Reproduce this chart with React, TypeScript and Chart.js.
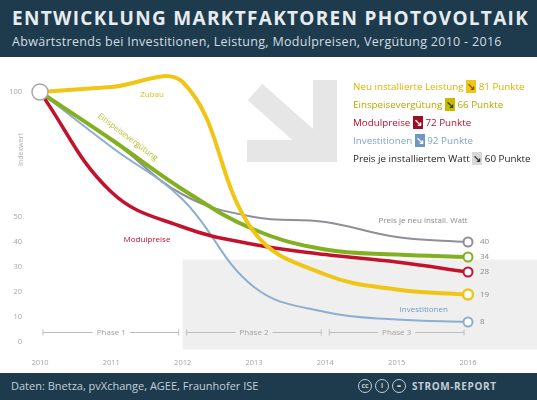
import React, { useEffect, useRef } from "react";
import { Chart, registerables } from "chart.js";

Chart.register(...registerables);

const years = ["2010", "2011", "2012", "2013", "2014", "2015", "2016"];
const leistung = [100, 102, 104, 44, 27, 21, 19];
const verguetung = [100, 81, 61, 45, 37, 35, 34];
const modulpreise = [100, 60, 46, 39, 35, 32, 28];
const investitionen = [100, 78, 57, 22, 12, 9, 8];
const preisWatt = [100, 81, 59, 50, 48, 42, 40];
const yTickValues = [0, 10, 20, 30, 40, 50, 100];
const phaseNames = ["Phase 1", "Phase 2", "Phase 3"];
const legendNames = [
  "Neu installierte Leistung",
  "Einspeisevergütung",
  "Modulpreise",
  "Investitionen",
  "Preis je installiertem Watt",
];
const lineLabels = ["Zubau", "Einspeisevergütung", "Modulpreise", "Investitionen", "Preis je neu install. Watt"];

const YELLOW = "#f0c514";
const GREEN = "#82b020";
const RED = "#c3122e";
const BLUE = "#8cafd0";
const GRAY = "#8e8e9c";

const seriesData = [leistung, verguetung, modulpreise, investitionen, preisWatt];
const legendColors = ["#dcb400", "#b3a800", "#b8102c", "#7fa6c9", "#222222"];
const legendBoxColors = [YELLOW, "#c9b800", "#9a0f25", "#6d98c4", "#d8d8d8"];
const legendArrowColors = ["#7a5a00", "#3a3a00", "#ffffff", "#ffffff", "#333333"];

function mk(label: string, data: number[], color: string, width: number) {
  const n = data.length;
  return {
    label,
    data,
    borderColor: color,
    borderWidth: width,
    tension: 0.4,
    fill: false,
    clip: false as any,
    pointRadius: data.map((_, i) => (i === n - 1 ? 4.5 : 0)),
    pointHoverRadius: 0,
    pointBackgroundColor: "#ffffff",
    pointBorderColor: color,
    pointBorderWidth: 2,
  };
}

const decorPlugin = {
  id: "decor",
  beforeDatasetsDraw(chart: any) {
    const { ctx, scales } = chart;
    const x = scales.x;
    const y = scales.y;
    ctx.save();
    // light band behind phases 2/3
    const x12 = x.getPixelForValue(2);
    const yTop = y.getPixelForValue(33);
    const yBot = y.getPixelForValue(-3);
    ctx.fillStyle = "#efefef";
    ctx.fillRect(x12, yTop, chart.width - x12, yBot - yTop);

    // big arrow watermark
    ctx.fillStyle = "#e6e6e6";
    ctx.strokeStyle = "#e6e6e6";
    ctx.fillRect(313, 80, 24, 82);
    ctx.fillRect(247, 140, 90, 22);
    ctx.lineWidth = 22;
    ctx.lineCap = "butt";
    ctx.beginPath();
    ctx.moveTo(255, 92);
    ctx.lineTo(318, 148);
    ctx.stroke();

    // phase markers
    const py = y.getPixelForValue(3.8);
    ctx.font = '8px "Open Sans", sans-serif';
    ctx.textAlign = "center";
    ctx.textBaseline = "middle";
    phaseNames.forEach((name, i) => {
      const a = x.getPixelForValue(i * 2) + (i === 0 ? 3 : 4);
      const b = x.getPixelForValue(i * 2 + 2) - 4;
      const c = x.getPixelForValue(i * 2 + 1);
      const tw = ctx.measureText(name).width / 2 + 4;
      ctx.strokeStyle = "#bdbdbd";
      ctx.lineWidth = 1;
      ctx.beginPath();
      ctx.moveTo(a, py);
      ctx.lineTo(c - tw, py);
      ctx.moveTo(c + tw, py);
      ctx.lineTo(b, py);
      ctx.moveTo(a, py - 3);
      ctx.lineTo(a, py + 3);
      ctx.moveTo(b, py - 3);
      ctx.lineTo(b, py + 3);
      ctx.stroke();
      ctx.fillStyle = "#a0a0a0";
      ctx.fillText(name, c, py);
    });
    ctx.restore();
  },
  afterDatasetsDraw(chart: any) {
    const { ctx, scales } = chart;
    const x = scales.x;
    const y = scales.y;
    ctx.save();
    ctx.textBaseline = "middle";
    const lbl = (t: string, xi: number, v: number, color: string, rot = 0) => {
      ctx.save();
      ctx.translate(x.getPixelForValue(xi), y.getPixelForValue(v));
      ctx.rotate(rot);
      ctx.fillStyle = color;
      ctx.textAlign = "center";
      ctx.font = '8px "Open Sans", sans-serif';
      ctx.fillText(t, 0, 0);
      ctx.restore();
    };
    lbl(lineLabels[0], 1.57, 99, "#d8c21c");
    lbl(lineLabels[1], 1.23, 82, "#b5bf22", (37 * Math.PI) / 180);
    lbl(lineLabels[2], 1.5, 41, "#c3122e");
    lbl(lineLabels[3], 5.38, 13, "#6f9cc4");
    lbl(lineLabels[4], 5.37, 48.5, "#8a8a8a");

    // end values
    ctx.font = '8px "Open Sans", sans-serif';
    ctx.textAlign = "left";
    ctx.fillStyle = "#8a8a8a";
    const last = years.length - 1;
    seriesData.forEach((d) => {
      ctx.fillText(String(d[last]), x.getPixelForValue(last) + 12, y.getPixelForValue(d[last]));
    });

    // y axis title
    ctx.save();
    ctx.translate(21, y.getPixelForValue(77));
    ctx.rotate(-Math.PI / 2);
    ctx.textAlign = "center";
    ctx.fillStyle = "#b0b0b0";
    ctx.font = '7px "Open Sans", sans-serif';
    ctx.fillText("Indexwert", 0, 0);
    ctx.restore();
    ctx.restore();
  },
};

export default function App() {
  const ref = useRef<HTMLCanvasElement>(null);
  useEffect(() => {
    if (!ref.current) return;
    const yellow = mk("Neu installierte Leistung", leistung, YELLOW, 4);
    const n = leistung.length;
    yellow.pointRadius = leistung.map((_, i) => (i === 0 ? 8 : i === n - 1 ? 5 : 0));
    (yellow as any).pointBorderColor = leistung.map((_, i) => (i === 0 ? "#a9a9a9" : YELLOW));
    (yellow as any).pointBorderWidth = leistung.map((_, i) => (i === 0 ? 1.5 : 2.5));
    const chart = new Chart(ref.current, {
      type: "line",
      data: {
        labels: years,
        datasets: [
          yellow,
          mk("Modulpreise", modulpreise, RED, 3.5),
          mk("Einspeisevergütung", verguetung, GREEN, 4),
          mk("Investitionen", investitionen, BLUE, 2),
          mk("Preis je installiertem Watt", preisWatt, GRAY, 2),
        ] as any,
      },
      options: {
        animation: false,
        responsive: false,
        devicePixelRatio: 1,
        events: [],
        layout: { padding: { top: 67, right: 69, bottom: 27, left: 0 } },
        plugins: { legend: { display: false }, tooltip: { enabled: false } },
        scales: {
          x: {
            type: "category",
            grid: { display: false, drawTicks: false },
            border: { display: false },
            ticks: { padding: 4, color: "#a5a5a5", font: { size: 7.5, family: '"Open Sans", sans-serif' }, maxRotation: 0 },
            afterFit: (s: any) => {
              s.height = 18.5;
            },
          },
          y: {
            min: -5,
            max: 110,
            grid: { display: false, drawTicks: false },
            border: { display: false },
            afterBuildTicks: (s: any) => {
              s.ticks = yTickValues.map((v) => ({ value: v }));
            },
            ticks: { padding: 18, color: "#a5a5a5", font: { size: 7.5, family: '"Open Sans", sans-serif' } },
            afterFit: (s: any) => {
              s.width = 40;
            },
          },
        },
      } as any,
      plugins: [decorPlugin],
    });
    return () => chart.destroy();
  }, []);

  const last = years.length - 1;
  return (
    <div
      style={{
        position: "absolute",
        left: 0,
        top: 0,
        width: 537,
        height: 400,
        overflow: "hidden",
        background: "#ffffff",
        fontFamily: '"Open Sans", sans-serif',
      }}
    >
      <canvas ref={ref} width={537} height={400} style={{ position: "absolute", left: 0, top: 0, display: "block" }} />
      <div style={{ position: "absolute", left: 0, top: 0, width: 537, height: 57, background: "#1d3b4d" }}>
        <div
          style={{
            position: "absolute",
            left: 12,
            top: 7,
            fontSize: 19,
            lineHeight: "22px",
            fontWeight: 700,
            color: "#e6ecef",
            letterSpacing: 1.3,
            whiteSpace: "nowrap",
          }}
        >
          ENTWICKLUNG MARKTFAKTOREN PHOTOVOLTAIK
        </div>
        <div
          style={{
            position: "absolute",
            left: 12,
            top: 34,
            fontSize: 12.5,
            lineHeight: "15px",
            color: "#d2dde3",
            letterSpacing: 0.3,
            whiteSpace: "nowrap",
          }}
        >
          Abwärtstrends bei Investitionen, Leistung, Modulpreisen, Vergütung 2010 - 2016
        </div>
      </div>
      <div style={{ position: "absolute", left: 353, top: 78, fontSize: 9.8, lineHeight: "18px", whiteSpace: "nowrap" }}>
        {legendNames.map((name, i) => (
          <div key={name} style={{ color: legendColors[i], height: 18 }}>
            {name}{" "}
            <span
              style={{
                background: legendBoxColors[i],
                color: legendArrowColors[i],
                fontWeight: 700,
                padding: "0 1px",
              }}
            >
              ↘
            </span>{" "}
            {100 - seriesData[i][last]} Punkte
          </div>
        ))}
      </div>
      <div
        style={{
          position: "absolute",
          left: 0,
          top: 373,
          width: 537,
          height: 27,
          background: "#1d3b4d",
          color: "#c3ced6",
          fontSize: 11,
        }}
      >
        <div style={{ position: "absolute", left: 11, top: 5, whiteSpace: "nowrap" }}>
          Daten: Bnetza, pvXchange, AGEE, Fraunhofer ISE
        </div>
        <div style={{ position: "absolute", left: 358, top: 6, display: "flex", gap: 3 }}>
          {["cc", "i", "="].map((g) => (
            <span
              key={g}
              style={{
                display: "inline-block",
                width: 12,
                height: 12,
                borderRadius: 7,
                border: "1.5px solid #c3ced6",
                fontSize: 7,
                lineHeight: "12px",
                textAlign: "center",
                fontWeight: 700,
              }}
            >
              {g}
            </span>
          ))}
        </div>
        <div
          style={{
            position: "absolute",
            left: 412,
            top: 6,
            fontSize: 10,
            fontWeight: 700,
            letterSpacing: 0.6,
            whiteSpace: "nowrap",
          }}
        >
          STROM-REPORT
        </div>
      </div>
    </div>
  );
}
